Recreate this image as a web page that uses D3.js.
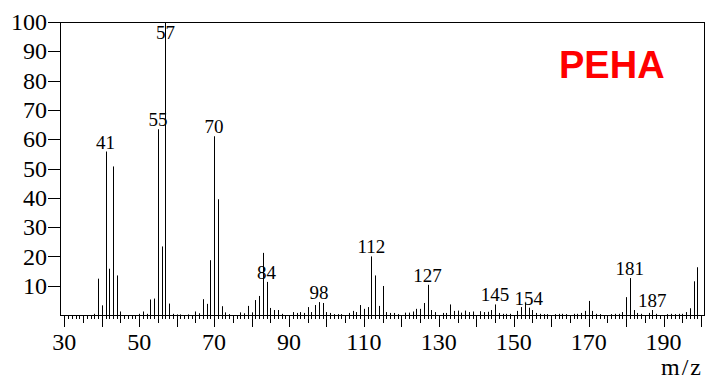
<!DOCTYPE html>
<html>
<head>
<meta charset="utf-8">
<script src="https://cdn.jsdelivr.net/npm/d3@7"></script>
<style>
  html, body { margin: 0; padding: 0; background: #fff; }
  svg { display: block; }
</style>
</head>
<body>
<script>
// mass spectrum of PEHA (relative intensity, %)
const mz = [38, 39, 40, 41, 42, 43, 44, 45, 50, 51, 52, 53, 54, 55, 56, 57, 58, 59, 60, 61, 63,
  65, 66, 67, 68, 69, 70, 71, 72, 73, 74, 77, 78, 79, 80, 81, 82, 83, 84, 85, 86, 87, 88,
  91, 92, 93, 94, 95, 96, 97, 98, 99, 100, 101, 102, 103, 104, 106, 107, 108, 109, 110, 111,
  112, 113, 114, 115, 116, 117, 118, 119, 121, 122, 123, 124, 125, 126, 127, 128, 129, 131,
  132, 133, 134, 135, 136, 137, 138, 139, 141, 142, 143, 144, 145, 146, 147, 148, 149, 151,
  152, 153, 154, 155, 156, 157, 158, 159, 161, 162, 163, 164, 166, 167, 168, 169, 170, 171,
  172, 173, 176, 177, 178, 179, 180, 181, 182, 183, 184, 186, 187, 188, 191, 192, 193, 194,
  195, 196, 197, 198, 199];
const intensity = [0.4, 12.4, 3.3, 55.8, 15.8, 50.7, 13.5, 1.2, 0.4, 1.2, 0.4, 5.3, 5.6, 63.4, 23.4, 100, 3.9, 0.4, 0.2, 0.2, 0.2,
  1.2, 0.6, 5.4, 3.8, 18.7, 61.0, 39.5, 3.0, 0.9, 0.3, 0.9, 0.6, 3.1, 0.9, 5.1, 6.5, 21.2, 11.3, 2.4, 1.7, 1.7, 0.4,
  1.0, 0.7, 1.0, 0.7, 2.7, 1.0, 3.4, 4.4, 4.1, 1.0, 0.7, 0.3, 0.3, 0.3, 0.7, 1.4, 1.0, 3.4, 2.1, 2.7,
  20.0, 13.5, 3.1, 9.9, 1.0, 0.7, 0.7, 0.3, 0.8, 0.8, 1.2, 2.1, 2.1, 4.1, 10.3, 1.7, 1.0, 0.7,
  0.7, 3.6, 1.4, 1.5, 0.8, 1.5, 1.0, 1.2, 1.3, 1.0, 1.1, 1.7, 3.6, 0.7, 0.4, 0.4, 0.4, 1.4,
  2.7, 4.2, 2.5, 1.7, 0.7, 0.4, 0.3, 0.3, 0.3, 0.4, 0.4, 0.3, 0.4, 0.4, 0.7, 1.4, 4.8, 1.4,
  0.4, 0.3, 0.3, 0.4, 0.4, 1.0, 6.1, 12.6, 1.7, 0.7, 0.4, 0.7, 1.7, 0.4, 0.3, 0.4, 0.3, 0.4,
  0.4, 1.0, 2.3, 11.5, 16.3];
const labelled = [41, 55, 57, 70, 84, 98, 112, 127, 145, 154, 181, 187];
const yTicks = [10, 20, 30, 40, 50, 60, 70, 80, 90, 100];
const xLabels = [30, 50, 70, 90, 110, 130, 150, 170, 190];
const title = "PEHA";

const width = 717, height = 392;
const serif = "'Liberation Serif', 'DejaVu Serif', serif";

const x = d3.scaleLinear().domain([28.85, 200.8]).range([60, 704]);
const y = d3.scaleLinear().domain([0, 100]).range([315, 22]);
const px = v => Math.round(x(v)) + 0.5;
const py = v => Math.round(y(v)) + 0.5;

const peaks = mz.map((m, i) => ({m: m, v: intensity[i]}));

const svg = d3.select("body").append("svg").attr("width", width).attr("height", height);

// frame
svg.append("rect").attr("x", 60.5).attr("y", 22.5).attr("width", 644).attr("height", 293)
  .attr("fill", "none").attr("stroke", "#000").attr("stroke-width", 1);

// y ticks + labels
const gy = svg.append("g");
gy.selectAll("line").data(yTicks).join("line")
  .attr("x1", 48).attr("x2", 60).attr("y1", d => py(d)).attr("y2", d => py(d))
  .attr("stroke", "#000");
gy.selectAll("text").data(yTicks).join("text")
  .attr("x", 47).attr("y", d => y(d)).attr("dy", "0.34em").attr("text-anchor", "end")
  .style("font", `24px ${serif}`).text(d => d);

// x ticks: every unit, longer at 5 and 10
const gx = svg.append("g");
gx.selectAll("line").data(d3.range(30, 201)).join("line")
  .attr("x1", d => px(d)).attr("x2", d => px(d))
  .attr("y1", 315).attr("y2", d => d % 10 === 0 ? 327 : d % 5 === 0 ? 323 : 319)
  .attr("stroke", "#000");
gx.selectAll("text").data(xLabels).join("text")
  .attr("x", d => x(d)).attr("y", 350).attr("text-anchor", "middle")
  .style("font", `24px ${serif}`).text(d => d);

svg.append("text").attr("x", 703).attr("y", 375).attr("text-anchor", "end")
  .style("font", `24px ${serif}`).style("letter-spacing", "2px").text("m/z");

// peaks
svg.append("g").selectAll("line").data(peaks).join("line")
  .attr("x1", d => px(d.m)).attr("x2", d => px(d.m))
  .attr("y1", 315).attr("y2", d => y(d.v))
  .attr("stroke", "#000").attr("stroke-width", 1);

// peak labels, kept inside the frame
svg.append("g").selectAll("text").data(peaks.filter(d => labelled.includes(d.m))).join("text")
  .attr("x", d => x(d.m)).attr("y", d => Math.max(y(d.v) - 3, 39))
  .attr("text-anchor", "middle").style("font", `19px ${serif}`).text(d => d.m);

svg.append("text").attr("x", 559).attr("y", 78)
  .style("font", "bold 38px 'Liberation Sans', Arial, sans-serif").attr("fill", "#ff0000")
  .text(title);
</script>
</body>
</html>
